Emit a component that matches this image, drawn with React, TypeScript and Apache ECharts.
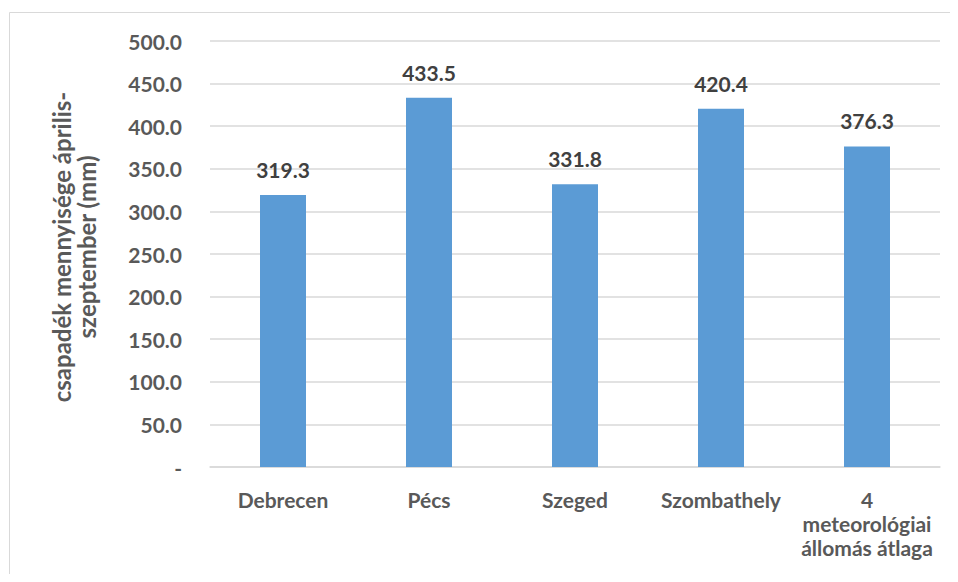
import React, { useEffect, useRef } from "react";
import * as echarts from "echarts";

const categories = [
  "Debrecen",
  "Pécs",
  "Szeged",
  "Szombathely",
  "4\nmeteorológiai\nállomás átlaga",
];
const precipitation = [319.3, 433.5, 331.8, 420.4, 376.3];
const yTicks = { min: 0, max: 500, interval: 50 };
const yTitle = "csapadék mennyisége április-\nszeptember (mm)";

const FONT = "Lato, 'Open Sans', sans-serif";

export default function App() {
  const ref = useRef<HTMLDivElement>(null);

  useEffect(() => {
    if (!ref.current) return;
    const chart = echarts.init(ref.current, null, { renderer: "svg" });
    chart.setOption({
      animation: false,
      backgroundColor: "#ffffff",
      grid: { left: 210, right: 18, top: 41, bottom: 115, containLabel: false },
      graphic: [
        {
          type: "rect",
          shape: { x: 9.5, y: 12.5, width: 960, height: 600 },
          style: { fill: "none", stroke: "#D9D9D9", lineWidth: 1 },
          silent: true,
        },
        {
          type: "text",
          x: 74,
          y: 247,
          rotation: Math.PI / 2,
          silent: true,
          style: {
            text: yTitle,
            fill: "#595959",
            fontFamily: "Lato",
            fontWeight: 700,
            fontSize: 24,
            lineHeight: 25,
            align: "center",
            verticalAlign: "middle",
          },
        },
      ],
      xAxis: {
        type: "category",
        data: categories,
        axisLine: { show: true, lineStyle: { color: "#D9D9D9", width: 1.5 } },
        axisTick: { show: false },
        axisLabel: {
          color: "#595959",
          fontFamily: FONT,
          fontWeight: "bold",
          fontSize: 21,
          lineHeight: 24,
          margin: 20,
          interval: 0,
        },
      },
      yAxis: {
        type: "value",
        min: yTicks.min,
        max: yTicks.max,
        interval: yTicks.interval,
        axisLine: { show: false },
        axisTick: { show: false },
        splitLine: { lineStyle: { color: "#D9D9D9", width: 1.5 } },
        axisLabel: {
          color: "#595959",
          fontFamily: FONT,
          fontWeight: "bold",
          fontSize: 21,
          margin: 28,
          formatter: (v: number) => (v === 0 ? "-" : v.toFixed(1)),
        },
      },
      series: [
        {
          type: "bar",
          data: precipitation,
          barWidth: 46,
          itemStyle: { color: "#5B9BD5" },
          label: {
            show: true,
            position: "top",
            distance: 15,
            color: "#404040",
            fontFamily: FONT,
            fontWeight: "bold",
            fontSize: 21,
            formatter: (p: any) => Number(p.value).toFixed(1),
          },
        },
      ],
    });
    return () => chart.dispose();
  }, []);

  return <div ref={ref} style={{ width: 958, height: 582, margin: -8 }} />;
}
